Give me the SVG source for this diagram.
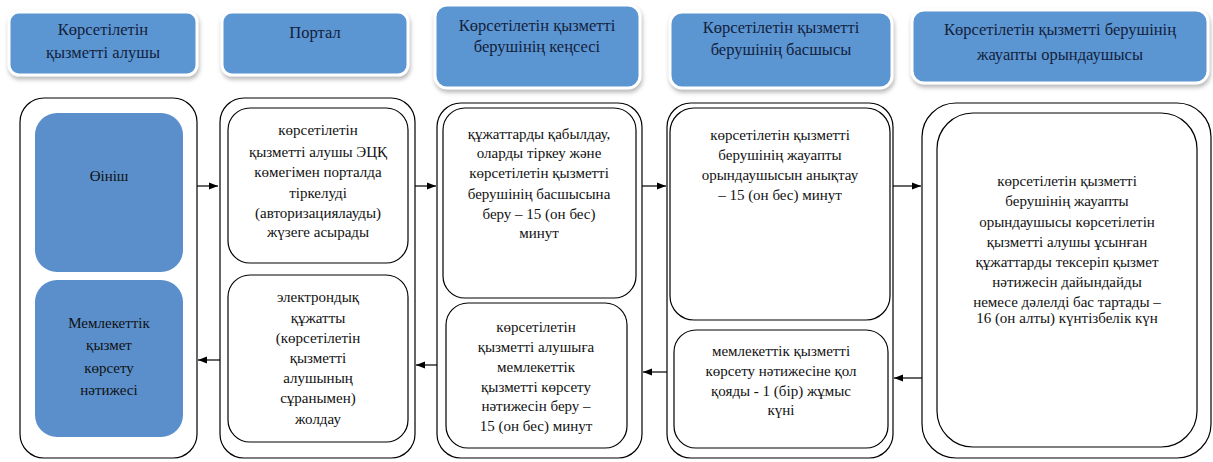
<svg xmlns="http://www.w3.org/2000/svg" width="1213" height="462" viewBox="0 0 1213 462">
<defs>
<marker id="ah" viewBox="0 0 10 10" refX="10" refY="5" markerWidth="9" markerHeight="9" markerUnits="userSpaceOnUse" orient="auto">
<path d="M0,1 L10,5 L0,9 z" fill="#000"/>
</marker>
<filter id="sh" x="-10%" y="-20%" width="120%" height="150%">
<feDropShadow dx="1" dy="3" stdDeviation="2" flood-color="#888" flood-opacity="0.6"/>
</filter>
</defs>
<style>
.hdr{fill:#5b96d2;stroke:#fff;stroke-width:3;filter:url(#sh)}
.blue{fill:#5a8fcb}
.outer{fill:#fff;stroke:#000;stroke-width:1.2}
.inner{fill:#fff;stroke:#000;stroke-width:1.2}
.t text{font-size:15px;text-anchor:middle;fill:#111}
.t .ht{fill:#13213c;font-size:16.5px}
.conn line{stroke:#000;stroke-width:1.2;marker-end:url(#ah)}
</style>
<rect width="1213" height="462" fill="#fff"/>
<g class="t" font-family="'Liberation Serif', 'Times New Roman', serif">
<g id="h1"><rect class="hdr" x="9" y="12" width="188" height="63" rx="10"/>
<text class="ht" x="103" y="35">Көрсетілетін</text><text class="ht" x="103" y="58">қызметті алушы</text></g>
<g id="h2"><rect class="hdr" x="222" y="12" width="186" height="63" rx="10"/>
<text class="ht" x="315" y="38">Портал</text></g>
<g id="h3"><rect class="hdr" x="435" y="5" width="205" height="83" rx="12"/>
<text class="ht" x="537" y="31">Көрсетілетін қызметті</text><text class="ht" x="537" y="52">берушінің кеңсесі</text></g>
<g id="h4"><rect class="hdr" x="670" y="12" width="222" height="76" rx="12"/>
<text class="ht" x="781" y="33">Көрсетілетін қызметті</text><text class="ht" x="781" y="55">берушінің басшысы</text></g>
<g id="h5"><rect class="hdr" x="912" y="10" width="296" height="73" rx="12"/>
<text class="ht" x="1060" y="35">Көрсетілетін қызметті берушінің</text><text class="ht" x="1060" y="60">жауапты орындаушысы</text></g>

<g id="c1"><rect class="outer" x="20" y="98" width="177" height="360" rx="24"/>
<rect class="blue" x="35" y="113" width="148" height="159" rx="22"/>
<text x="109" y="181">Өініш</text>
<rect class="blue" x="35" y="280" width="148" height="157" rx="22"/>
<text x="109" y="328">Мемлекеттік</text><text x="109" y="350">қызмет</text><text x="109" y="373">көрсету</text><text x="109" y="395">нәтижесі</text></g>

<g id="c2"><rect class="outer" x="220" y="98" width="195" height="360" rx="24"/>
<rect class="inner" x="228" y="108" width="180" height="155" rx="22"/>
<text x="318" y="135">көрсетілетін</text><text x="318" y="157">қызметті алушы ЭЦҚ</text><text x="318" y="177">көмегімен порталда</text><text x="318" y="198">тіркелуді</text><text x="318" y="218">(авторизациялауды)</text><text x="318" y="237">жүзеге асырады</text>
<rect class="inner" x="228" y="275" width="180" height="167" rx="22"/>
<text x="318" y="302">электрондық</text><text x="318" y="323">құжатты</text><text x="318" y="343">(көрсетілетін</text><text x="318" y="363">қызметті</text><text x="318" y="383">алушының</text><text x="318" y="403">сұранымен)</text><text x="318" y="424">жолдау</text></g>

<g id="c3"><rect class="outer" x="437" y="103" width="205" height="355" rx="24"/>
<rect class="inner" x="443" y="108" width="193" height="190" rx="22"/>
<text x="539" y="139">құжаттарды қабылдау,</text><text x="539" y="158">оларды тіркеу және</text><text x="539" y="178">көрсетілетін қызметті</text><text x="539" y="199">берушінің басшысына</text><text x="539" y="219">беру – 15 (он бес)</text><text x="539" y="238">минут</text>
<rect class="inner" x="446" y="303" width="181" height="145" rx="22"/>
<text x="536" y="332">көрсетілетін</text><text x="536" y="352">қызметті алушыға</text><text x="536" y="372">мемлекеттік</text><text x="536" y="392">қызметті көрсету</text><text x="536" y="411">нәтижесін беру –</text><text x="536" y="431">15 (он бес) минут</text></g>

<g id="c4"><rect class="outer" x="667" y="103" width="226" height="355" rx="24"/>
<rect class="inner" x="670" y="108" width="220" height="212" rx="24"/>
<text x="780" y="140">көрсетілетін қызметті</text><text x="780" y="160">берушінің жауапты</text><text x="780" y="180">орындаушысын анықтау</text><text x="780" y="200">– 15 (он бес) минут</text>
<rect class="inner" x="674" y="330" width="214" height="118" rx="22"/>
<text x="781" y="356">мемлекеттік қызметті</text><text x="781" y="376">көрсету нәтижесіне қол</text><text x="781" y="396">қояды - 1 (бір) жұмыс</text><text x="781" y="415">күні</text></g>

<g id="c5"><rect class="outer" x="922" y="103" width="289" height="355" rx="34"/>
<rect class="inner" x="937" y="113" width="260" height="334" rx="36"/>
<text x="1067" y="186">көрсетілетін қызметті</text><text x="1067" y="206">берушінің жауапты</text><text x="1067" y="227">орындаушысы көрсетілетін</text><text x="1067" y="247">қызметті алушы ұсынған</text><text x="1067" y="267">құжаттарды тексеріп қызмет</text><text x="1067" y="287">нәтижесін  дайындайды</text><text x="1067" y="307">немесе дәлелді бас тартады  –</text><text x="1067" y="323">16 (он алты) күнтізбелік күн</text></g>
</g>
<g id="connectors" class="conn">
<line x1="197" y1="186" x2="218" y2="186"/>
<line x1="415" y1="186" x2="436" y2="186"/>
<line x1="642" y1="186" x2="666" y2="186"/>
<line x1="893" y1="186" x2="921" y2="186"/>
<line x1="922" y1="378" x2="894" y2="378"/>
<line x1="667" y1="372" x2="643" y2="372"/>
<line x1="437" y1="365" x2="416" y2="365"/>
<line x1="220" y1="360" x2="198" y2="360"/>
</g>
</svg>
